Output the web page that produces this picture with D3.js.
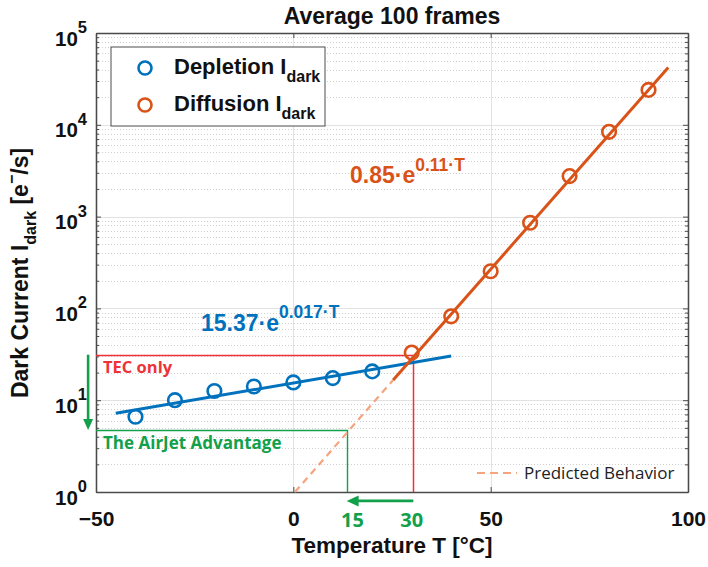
<!DOCTYPE html>
<html>
<head>
<meta charset="utf-8">
<script src="https://cdn.jsdelivr.net/npm/d3@7"></script>
<style>
  html, body { margin: 0; padding: 0; background: #fff; }
  svg { display: block; }
</style>
</head>
<body>
<div id="chart"></div>
<script>
// ---------------- data ----------------
const depletionT = [-40, -30, -20, -10, 0, 10, 20];
const depletionI = [6.6, 10.0, 12.6, 14.1, 15.6, 17.4, 20.6];
const diffusionT = [30, 40, 50, 60, 70, 80, 90];
const diffusionI = [33, 82, 254, 857, 2760, 8380, 24000];

// fitted lines (end points)
const depletionFitT = [-45, 40];
const depletionFitI = [7.2, 30.3];
const diffusionFitT = [25.3, 95];
const diffusionFitI = [16.6, 42000];
const predictedT = [0.4, 25.3];
const predictedI = [1, 16.6];

// annotation levels
const tecT = 30.4, tecLevel = 31.3;
const airjetT = 13.5, airjetLevel = 4.75;
const arrowX = -52;          // vertical arrow position (T units)
const arrowBottomLevel = 0.8; // horizontal arrow level (below axis)

const xTicks = [-50, 0, 50, 100];
const yTicks = [1, 10, 100, 1000, 10000, 100000];
const yExps = [0, 1, 2, 3, 4, 5];
const markTicks = [15, 30];

// ---------------- setup ----------------
const W = 708, H = 567;
const L = 96, R = 688, T = 33, B = 492;
const AR = "'Liberation Sans', Arial, Helvetica, sans-serif";
const OS = "'Open Sans', 'Noto Sans', sans-serif";
const BLUE = "#0072BD", ORANGE = "#D95319", SALMON = "#F4A47E";
const RED = "#EE3338", GREEN = "#12A04B";
const px = v => Math.round(v) + 0.5;

const svg = d3.select("#chart").append("svg").attr("width", W).attr("height", H);
const x = d3.scaleLinear().domain([-50, 100]).range([L, R]);
const y = d3.scaleLog().domain([1, 1e5]).range([B, T]);

// background
svg.append("rect").attr("x", L).attr("y", T).attr("width", R - L).attr("height", B - T).attr("fill", "#fff");

// minor grid
const minor = [];
for (let d = 0; d < 5; d++) for (let k = 2; k <= 9; k++) minor.push(k * Math.pow(10, d));
svg.append("g").selectAll("line").data(minor).join("line")
  .attr("x1", L).attr("x2", R).attr("y1", d => px(y(d))).attr("y2", d => px(y(d)))
  .attr("stroke", "#cfcfcf").attr("stroke-width", 1).attr("stroke-dasharray", "1,2");
// major grid
svg.append("g").selectAll("line").data(yTicks.slice(1, -1)).join("line")
  .attr("x1", L).attr("x2", R).attr("y1", d => px(y(d))).attr("y2", d => px(y(d)))
  .attr("stroke", "#e2e2e2").attr("stroke-width", 1);
svg.append("g").selectAll("line").data([0, 50]).join("line")
  .attr("y1", T).attr("y2", B).attr("x1", d => px(x(d))).attr("x2", d => px(x(d)))
  .attr("stroke", "#e2e2e2").attr("stroke-width", 1);

// axes (ticks inward)
const axCol = "#4a4a4a";
function styleAxis(g) {
  g.selectAll("path").attr("stroke", axCol).attr("stroke-width", 1.3);
  g.selectAll("line").attr("stroke", axCol);
  g.selectAll("text").remove();
}
svg.append("g").attr("transform", `translate(${L},0)`)
  .call(d3.axisLeft(y).tickValues(yTicks).tickSize(-5).tickSizeOuter(0).tickFormat("")).call(styleAxis);
svg.append("g").attr("transform", `translate(${L},0)`)
  .call(d3.axisLeft(y).tickValues(minor).tickSize(-3).tickSizeOuter(0).tickFormat("")).call(styleAxis);
svg.append("g").attr("transform", `translate(${R},0)`)
  .call(d3.axisRight(y).tickValues(yTicks).tickSize(-5).tickSizeOuter(0).tickFormat("")).call(styleAxis);
svg.append("g").attr("transform", `translate(${R},0)`)
  .call(d3.axisRight(y).tickValues(minor).tickSize(-3).tickSizeOuter(0).tickFormat("")).call(styleAxis);
svg.append("g").attr("transform", `translate(0,${T})`)
  .call(d3.axisTop(x).tickValues(xTicks).tickSize(-5).tickSizeOuter(0).tickFormat("")).call(styleAxis);
const xAxis = svg.append("g").attr("transform", `translate(0,${B})`)
  .call(d3.axisBottom(x).tickValues(xTicks).tickSize(-5).tickSizeOuter(0).tickPadding(19)
    .tickFormat(d => d < 0 ? "\u2212" + Math.abs(d) : String(d)));
xAxis.selectAll("path").attr("stroke", axCol).attr("stroke-width", 1.3);
xAxis.selectAll("line").attr("stroke", axCol);
xAxis.selectAll("text").attr("font-family", AR).attr("font-weight", "bold").attr("font-size", 21).attr("fill", "#111");

// y tick labels 10^n
const yl = svg.append("g").selectAll("text").data(yTicks).join("text")
  .attr("x", 87).attr("y", d => y(d) + 12.5).attr("text-anchor", "end")
  .attr("font-family", AR).attr("font-weight", "bold").attr("font-size", 20.5).attr("fill", "#111");
yl.append("tspan").text("10");
yl.append("tspan").attr("dy", -12.5).attr("font-size", 16.5).text((d, i) => yExps[i]);

// annotation: TEC only (red)
svg.append("path")
  .attr("d", `M${L},${px(y(tecLevel))}H${px(x(tecT))}V${B}`)
  .attr("fill", "none").attr("stroke", RED).attr("stroke-width", 1.5);
// AirJet (green)
svg.append("path")
  .attr("d", `M${L},${px(y(airjetLevel))}H${px(x(airjetT))}V${B}`)
  .attr("fill", "none").attr("stroke", GREEN).attr("stroke-width", 1.4);

// predicted dashed
const line = d3.line().x(d => x(d[0])).y(d => y(d[1]));
svg.append("path").datum(d3.zip(predictedT, predictedI)).attr("d", line)
  .attr("fill", "none").attr("stroke", SALMON).attr("stroke-width", 2.2).attr("stroke-dasharray", "7,5");

// fit lines
svg.append("path").datum(d3.zip(depletionFitT, depletionFitI)).attr("d", line)
  .attr("fill", "none").attr("stroke", BLUE).attr("stroke-width", 3);
svg.append("path").datum(d3.zip(diffusionFitT, diffusionFitI)).attr("d", line)
  .attr("fill", "none").attr("stroke", ORANGE).attr("stroke-width", 3);

// markers
svg.append("g").selectAll("circle").data(d3.zip(depletionT, depletionI)).join("circle")
  .attr("cx", d => x(d[0])).attr("cy", d => y(d[1])).attr("r", 6.8)
  .attr("fill", "none").attr("stroke", BLUE).attr("stroke-width", 2.6);
svg.append("g").selectAll("circle").data(d3.zip(diffusionT, diffusionI)).join("circle")
  .attr("cx", d => x(d[0])).attr("cy", d => y(d[1])).attr("r", 6.8)
  .attr("fill", "none").attr("stroke", ORANGE).attr("stroke-width", 2.6);

// green arrows
const ax0 = x(arrowX);
const vTop = y(tecLevel), vTip = y(airjetLevel);
svg.append("line").attr("x1", ax0).attr("x2", ax0).attr("y1", vTop).attr("y2", vTip - 10)
  .attr("stroke", GREEN).attr("stroke-width", 2.6);
svg.append("path").attr("d", `M${ax0 - 5},${vTip - 11}L${ax0 + 5},${vTip - 11}L${ax0},${vTip}Z`).attr("fill", GREEN);
const hy = y(arrowBottomLevel), hStart = x(tecT), hTip = x(airjetT);
svg.append("line").attr("x1", hStart).attr("x2", hTip + 11).attr("y1", hy).attr("y2", hy)
  .attr("stroke", GREEN).attr("stroke-width", 2.6);
svg.append("path").attr("d", `M${hTip + 12},${hy - 5.5}L${hTip + 12},${hy + 5.5}L${hTip},${hy}Z`).attr("fill", GREEN);

// annotation texts
svg.append("text").attr("x", 103).attr("y", 373).attr("font-family", OS).attr("font-weight", "bold")
  .attr("font-size", 16.5).attr("fill", RED).text("TEC only");
svg.append("text").attr("x", 103).attr("y", 449).attr("font-family", OS).attr("font-weight", "bold")
  .attr("font-size", 17).attr("fill", GREEN).text("The AirJet Advantage");
svg.append("g").selectAll("text").data(markTicks).join("text")
  .attr("x", d => x(d)).attr("y", 527).attr("text-anchor", "middle")
  .attr("font-family", OS).attr("font-weight", "bold").attr("font-size", 20).attr("fill", GREEN).text(d => d);

// predicted behavior legend
svg.append("line").attr("x1", 477).attr("x2", 517).attr("y1", 473).attr("y2", 473)
  .attr("stroke", SALMON).attr("stroke-width", 2.2).attr("stroke-dasharray", "8,5");
svg.append("text").attr("x", 524).attr("y", 479).attr("font-family", OS).attr("font-size", 17)
  .attr("fill", "#222").text("Predicted Behavior");

// equations
const eq1 = svg.append("text").attr("x", 201).attr("y", 331).attr("font-family", AR).attr("font-weight", "bold")
  .attr("font-size", 23).attr("fill", BLUE);
eq1.append("tspan").text("15.37\u00B7e");
eq1.append("tspan").attr("dy", -13).attr("font-size", 17.5).text("0.017\u00B7T");
const eq2 = svg.append("text").attr("x", 350).attr("y", 183).attr("font-family", AR).attr("font-weight", "bold")
  .attr("font-size", 23).attr("fill", ORANGE);
eq2.append("tspan").text("0.85\u00B7e");
eq2.append("tspan").attr("dy", -12).attr("font-size", 17.5).text("0.11\u00B7T");

// legend
const lg = svg.append("g");
lg.append("rect").attr("x", 111).attr("y", 47).attr("width", 214).attr("height", 79)
  .attr("fill", "#fff").attr("stroke", "#4d4d4d").attr("stroke-width", 1);
const legItems = [{ name: "Depletion I", c: BLUE, y: 68 }, { name: "Diffusion I", c: ORANGE, y: 105 }];
legItems.forEach(it => {
  lg.append("circle").attr("cx", 145).attr("cy", it.y).attr("r", 6.5).attr("fill", "none")
    .attr("stroke", it.c).attr("stroke-width", 2.6);
  const t = lg.append("text").attr("x", 174).attr("y", it.y + 6).attr("font-family", AR)
    .attr("font-weight", "bold").attr("font-size", 22).attr("fill", "#111");
  t.append("tspan").text(it.name);
  t.append("tspan").attr("dy", 8).attr("font-size", 16).text("dark");
});

// title
svg.append("text").attr("x", 392).attr("y", 24).attr("text-anchor", "middle").attr("font-family", AR)
  .attr("font-weight", "bold").attr("font-size", 23).attr("fill", "#111").text("Average 100 frames");
// x label
svg.append("text").attr("x", 392).attr("y", 553).attr("text-anchor", "middle").attr("font-family", AR)
  .attr("font-weight", "bold").attr("font-size", 22.5).attr("fill", "#111").text("Temperature T [\u00B0C]");
// y label
const ylab = svg.append("text").attr("transform", "translate(28,273) rotate(-90)").attr("text-anchor", "middle")
  .attr("font-family", AR).attr("font-weight", "bold").attr("font-size", 23).attr("fill", "#111");
ylab.append("tspan").text("Dark Current I");
ylab.append("tspan").attr("dy", 8).attr("font-size", 16).text("dark");
ylab.append("tspan").attr("dy", -8).text(" [e");
ylab.append("tspan").attr("dy", -11).attr("font-size", 16).text("\u2212");
ylab.append("tspan").attr("dy", 11).text("/s]");
</script>
</body>
</html>
